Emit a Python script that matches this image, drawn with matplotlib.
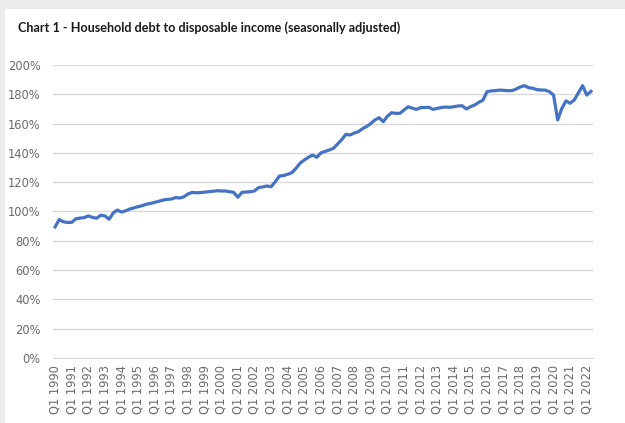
import matplotlib
matplotlib.use("Agg")
import matplotlib.pyplot as plt
from matplotlib.patches import Rectangle
from matplotlib.ticker import FuncFormatter

title = "Chart 1 - Household debt to disposable income (seasonally adjusted)"
start_year = 1990
label_years = list(range(1990, 2023))
# quarterly household debt to disposable income, %, Q1 1990 .. Q2 2022
ratio_pct = [
    89.5, 94.5, 93.0, 92.5, 92.6, 95.0, 95.5, 95.8, 97.0, 96.0,
    95.4, 97.5, 97.0, 94.7, 99.0, 101.0, 99.6, 100.5, 101.7, 102.5,
    103.3, 104.0, 105.0, 105.5, 106.3, 107.0, 107.8, 108.3, 108.5, 109.5,
    109.2, 110.0, 112.0, 113.0, 112.8, 112.9, 113.2, 113.5, 113.8, 114.2,
    114.0, 114.0, 113.5, 113.1, 109.7, 113.1, 113.3, 113.5, 114.0, 116.3,
    116.8, 117.4, 116.9, 120.3, 124.2, 124.5, 125.4, 126.5, 129.5, 133.0,
    135.2, 137.0, 138.5, 137.0, 140.0, 141.0, 142.0, 143.1, 146.0, 149.0,
    152.7, 152.2, 153.5, 154.5, 156.5, 158.0, 160.0, 162.5, 164.0, 161.3,
    165.0, 167.4, 167.0, 167.0, 169.3, 171.5, 170.5, 169.7, 170.9, 171.0,
    171.1, 169.7, 170.4, 171.0, 171.3, 171.1, 171.5, 172.0, 172.2, 170.0,
    171.5, 172.7, 174.5, 176.0, 181.8, 182.3, 182.5, 182.9, 182.7, 182.5,
    182.5, 183.6, 185.0, 185.9, 184.5, 184.1, 183.2, 182.9, 182.9, 181.8,
    179.5, 162.5, 170.4, 175.5, 173.9, 176.2, 181.0, 185.9, 179.5, 182.0,
]
y_ticks = [0, 20, 40, 60, 80, 100, 120, 140, 160, 180, 200]

W, H = 625, 423
fig = plt.figure(figsize=(W / 100, H / 100), dpi=100)
fig.patch.set_facecolor("white")

# light grey frame at top and left (screenshot card edge)
fig.patches.append(Rectangle((0, 1 - 9 / H), 1, 9 / H, transform=fig.transFigure,
                             facecolor="#ececec", edgecolor="none", zorder=0))
fig.patches.append(Rectangle((0, 0), 5 / W, 1, transform=fig.transFigure,
                             facecolor="#ececec", edgecolor="none", zorder=0))

left, right, top, bottom = 53, 593, 65, 358
ax = fig.add_axes([left / W, 1 - bottom / H, (right - left) / W, (bottom - top) / H])

x = list(range(len(ratio_pct)))
ax.plot(x, ratio_pct, color="#4472C4", lw=2.3, solid_joinstyle="round", zorder=3)

ax.set_ylim(0, 200)
ax.set_xlim(-0.5, len(ratio_pct) - 0.5)
ax.set_yticks(y_ticks)
ax.yaxis.set_major_formatter(FuncFormatter(lambda v, p: f"{v:.0f}%"))
ax.grid(axis="y", color="#d9d9d9", lw=1)
ax.set_axisbelow(True)

tick_pos = [(yr - start_year) * 4 for yr in label_years]
ax.set_xticks(tick_pos)
ax.set_xticklabels([f"Q1 {yr}" for yr in label_years], rotation=90, ha="center", va="top")

for s in ["top", "right", "left"]:
    ax.spines[s].set_visible(False)
ax.spines["bottom"].set_color("#d9d9d9")
ax.tick_params(axis="both", length=0, colors="#6a6a6a", labelsize=8.3)
ax.tick_params(axis="y", pad=9)
ax.tick_params(axis="x", pad=5)

fig.text(18 / W, 1 - 28 / H, title, fontsize=9.1, fontweight="bold", family="Lato",
         color="#1a1a1a", ha="left", va="center")

fig.savefig("out.png", dpi=100, facecolor=fig.get_facecolor())
